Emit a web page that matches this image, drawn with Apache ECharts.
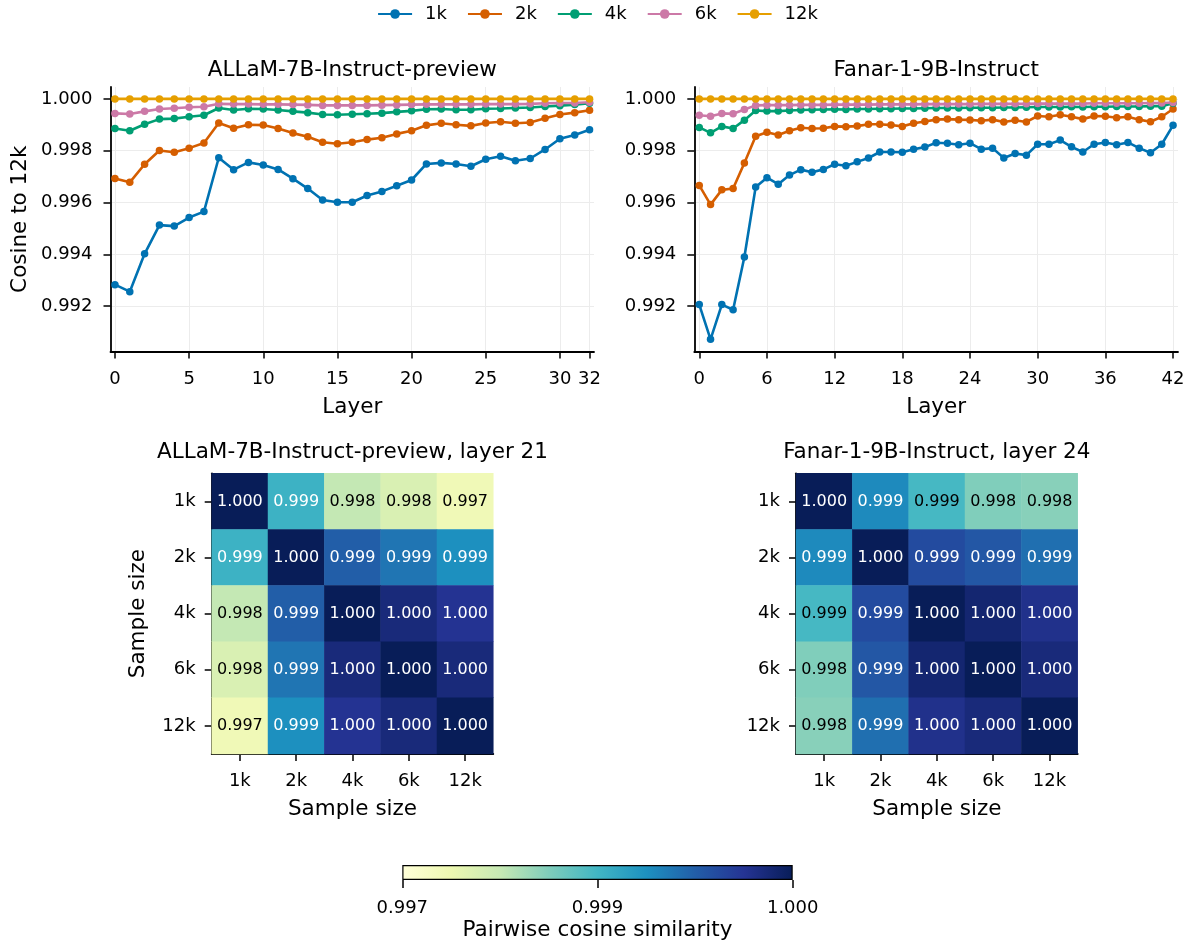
<!DOCTYPE html>
<html>
<head>
<meta charset="utf-8">
<script src="https://cdn.jsdelivr.net/npm/echarts@6/dist/echarts.min.js"></script>
<style>
html,body{margin:0;padding:0;background:#fff;}
#chart{width:1195px;height:942px;}
</style>
</head>
<body>
<div id="chart"></div>
<script>
// ---------- DATA ----------
const seriesNames = ['1k', '2k', '4k', '6k', '12k'];
const sizeLabels = ['1k', '2k', '4k', '6k', '12k'];

const allamTicks = [0, 5, 10, 15, 20, 25, 30, 32];
const fanarTicks = [0, 6, 12, 18, 24, 30, 36, 42];
const yTicks = [0.992, 0.994, 0.996, 0.998, 1.000];
const cbTicks = [0.997, 0.999, 0.9997];

const allam1k = [0.99283,0.99256,0.99402,0.99513,0.99509,0.99542,0.99565,0.99773,0.99727,0.99755,0.99745,0.99728,0.99692,0.99654,0.99610,0.99601,0.99601,0.99627,0.99643,0.99665,0.99687,0.99749,0.99753,0.99749,0.99740,0.99767,0.99779,0.99761,0.99770,0.99805,0.99846,0.99861,0.99881];
const allam2k = [0.99693,0.99678,0.99748,0.99801,0.99794,0.99810,0.99830,0.99907,0.99887,0.99900,0.99899,0.99886,0.99868,0.99854,0.99833,0.99827,0.99833,0.99843,0.99850,0.99865,0.99877,0.99898,0.99906,0.99900,0.99896,0.99907,0.99912,0.99906,0.99909,0.99925,0.99940,0.99947,0.99956];
const allam4k = [0.99886,0.99877,0.99902,0.99922,0.99924,0.99931,0.99937,0.99965,0.99957,0.99962,0.99961,0.99957,0.99952,0.99947,0.99940,0.99939,0.99941,0.99943,0.99945,0.99950,0.99954,0.99960,0.99961,0.99958,0.99958,0.99962,0.99963,0.99965,0.99967,0.99971,0.99974,0.99978,0.99983];
const allam6k = [0.99944,0.99942,0.99952,0.99961,0.99964,0.99968,0.99970,0.99981,0.99980,0.99980,0.99979,0.99979,0.99978,0.99977,0.99975,0.99975,0.99975,0.99975,0.99976,0.99977,0.99978,0.99979,0.99979,0.99979,0.99979,0.99980,0.99980,0.99980,0.99981,0.99983,0.99984,0.99984,0.99987];
const allam12k = [1,1,1,1,1,1,1,1,1,1,1,1,1,1,1,1,1,1,1,1,1,1,1,1,1,1,1,1,1,1,1,1,1];

const fanar1k = [0.99206,0.99072,0.99206,0.99186,0.99390,0.99660,0.99696,0.99671,0.99706,0.99727,0.99717,0.99728,0.99748,0.99742,0.99757,0.99772,0.99795,0.99795,0.99794,0.99806,0.99814,0.99831,0.99829,0.99823,0.99829,0.99806,0.99810,0.99772,0.99789,0.99783,0.99825,0.99825,0.99841,0.99815,0.99795,0.99825,0.99832,0.99823,0.99832,0.99810,0.99792,0.99825,0.99898];
const fanar2k = [0.99666,0.99592,0.99649,0.99654,0.99753,0.99856,0.99871,0.99861,0.99877,0.99889,0.99886,0.99887,0.99894,0.99893,0.99895,0.99902,0.99902,0.99899,0.99894,0.99906,0.99913,0.99920,0.99922,0.99920,0.99919,0.99916,0.99920,0.99911,0.99918,0.99911,0.99934,0.99931,0.99939,0.99931,0.99922,0.99934,0.99933,0.99927,0.99931,0.99920,0.99912,0.99931,0.99961];
const fanar4k = [0.99890,0.99869,0.99894,0.99886,0.99918,0.99955,0.99953,0.99953,0.99955,0.99957,0.99958,0.99959,0.99960,0.99959,0.99961,0.99961,0.99962,0.99962,0.99963,0.99963,0.99964,0.99965,0.99965,0.99965,0.99966,0.99966,0.99966,0.99967,0.99967,0.99968,0.99969,0.99969,0.99969,0.99970,0.99969,0.99970,0.99970,0.99971,0.99971,0.99971,0.99972,0.99972,0.99983];
const fanar6k = [0.99937,0.99933,0.99944,0.99943,0.99959,0.99975,0.99976,0.99976,0.99976,0.99977,0.99977,0.99977,0.99978,0.99978,0.99978,0.99978,0.99979,0.99979,0.99979,0.99979,0.99980,0.99980,0.99980,0.99980,0.99980,0.99981,0.99981,0.99981,0.99981,0.99981,0.99982,0.99982,0.99982,0.99982,0.99982,0.99983,0.99983,0.99983,0.99983,0.99983,0.99984,0.99984,0.99986];
const fanar12k = [1,1,1,1,1,1,1,1,1,1,1,1,1,1,1,1,1,1,1,1,1,1,1,1,1,1,1,1,1,1,1,1,1,1,1,1,1,1,1,1,1,1,1];

// pairwise matrices (rows/cols = sizeLabels)
const allamPair = [
  [1.00000, 0.99902, 0.99802, 0.99776, 0.99742],
  [0.99902, 1.00000, 0.99935, 0.99927, 0.99918],
  [0.99802, 0.99935, 1.00000, 0.99960, 0.99953],
  [0.99776, 0.99927, 0.99960, 1.00000, 0.99960],
  [0.99742, 0.99918, 0.99953, 0.99960, 1.00000]
];
const fanarPair = [
  [1.00000, 0.99920, 0.99896, 0.99849, 0.99844],
  [0.99920, 1.00000, 0.99943, 0.99938, 0.99929],
  [0.99896, 0.99943, 1.00000, 0.99963, 0.99955],
  [0.99849, 0.99938, 0.99963, 1.00000, 0.99960],
  [0.99844, 0.99929, 0.99955, 0.99960, 1.00000]
];

// ---------- STYLE ----------
const FONT = '"DejaVu Sans", "Liberation Sans", sans-serif';
const colors = ['#0072B2', '#D55E00', '#009E73', '#CC79A7', '#E69F00'];
const ylgnbu = ['#ffffd9','#edf8b1','#c7e9b4','#7fcdbb','#41b6c4','#1d91c0','#225ea8','#253494','#081d58'];
const VMIN = cbTicks[0], VCENTER = cbTicks[1], VMAX = cbTicks[2];
function norm(v) { // two-slope normalisation, clipped to [0,1]
  let t = v <= VCENTER ? 0.5 * (v - VMIN) / (VCENTER - VMIN)
                       : 0.5 + 0.5 * (v - VCENTER) / (VMAX - VCENTER);
  return Math.max(0, Math.min(1, t));
}

const chart = echarts.init(document.getElementById('chart'), null, {renderer: 'canvas'});

function lineAxisX(gridIndex, min, max, ticks) {
  return {
    type: 'value', gridIndex, min, max,
    name: 'Layer', nameLocation: 'middle', nameGap: 45,
    nameTextStyle: {fontSize: 21.5, color: '#000', fontFamily: FONT},
    axisLine: {show: true, onZero: false, lineStyle: {color: '#000', width: 1.8}},
    axisTick: {show: true, length: 7, customValues: ticks, lineStyle: {color: '#000', width: 1.5}},
    axisLabel: {customValues: ticks, fontSize: 18, color: '#000', fontFamily: FONT, margin: 19},
    splitLine: {show: true, lineStyle: {color: '#ececec', width: 1}}
  };
}
function lineAxisY(gridIndex, withName) {
  return {
    type: 'value', gridIndex, min: 0.99025, max: 1.00046,
    name: withName ? 'Cosine to 12k' : '', nameLocation: 'middle', nameGap: 79,
    nameTextStyle: {fontSize: 21.5, color: '#000', fontFamily: FONT},
    axisLine: {show: true, onZero: false, lineStyle: {color: '#000', width: 1.8}},
    axisTick: {show: true, length: 7, customValues: yTicks, lineStyle: {color: '#000', width: 1.5}},
    axisLabel: {customValues: yTicks, fontSize: 18, color: '#000', fontFamily: FONT, margin: 18,
      formatter: v => v.toFixed(3)},
    splitLine: {show: true, lineStyle: {color: '#ececec', width: 1}}
  };
}
function heatAxisX(gridIndex) {
  return {
    type: 'category', gridIndex, data: sizeLabels,
    name: 'Sample size', nameLocation: 'middle', nameGap: 44,
    nameTextStyle: {fontSize: 21.5, color: '#000', fontFamily: FONT},
    axisLine: {show: true, lineStyle: {color: '#000', width: 1.8}},
    axisTick: {show: true, alignWithLabel: true, length: 7, lineStyle: {color: '#000', width: 1.5}},
    axisLabel: {fontSize: 18, color: '#000', fontFamily: FONT, margin: 18},
    splitLine: {show: false}
  };
}
function heatAxisY(gridIndex, withName) {
  return {
    type: 'category', gridIndex, data: sizeLabels, inverse: true,
    name: withName ? 'Sample size' : '', nameLocation: 'middle', nameGap: 62,
    nameTextStyle: {fontSize: 21.5, color: '#000', fontFamily: FONT},
    axisLine: {show: true, lineStyle: {color: '#000', width: 1.8}},
    axisTick: {show: true, alignWithLabel: true, length: 7, lineStyle: {color: '#000', width: 1.5}},
    axisLabel: {fontSize: 18, color: '#000', fontFamily: FONT, margin: 16},
    splitLine: {show: false}
  };
}

function lineSeries(name, values, idx, axisIdx) {
  return {
    type: 'line', name, xAxisIndex: axisIdx, yAxisIndex: axisIdx,
    data: values.map((v, i) => [i, v]),
    symbol: 'circle', symbolSize: 7.5, showSymbol: true, clip: false,
    lineStyle: {color: colors[idx], width: 2.6},
    itemStyle: {color: colors[idx]},
    emphasis: {disabled: true}, z: 2 + idx
  };
}
function heatData(mat) {
  const out = [];
  mat.forEach((row, r) => row.forEach((v, c) => {
    out.push({value: [c, r, v, norm(v)], label: {color: v > 0.999 ? '#ffffff' : '#000000'}});
  }));
  return out;
}
function heatSeries(mat, axisIdx) {
  return {
    type: 'heatmap', xAxisIndex: axisIdx, yAxisIndex: axisIdx,
    data: heatData(mat),
    label: {show: true, fontSize: 16, fontFamily: FONT, formatter: p => p.value[2].toFixed(3)},
    itemStyle: {borderWidth: 0},
    emphasis: {disabled: true}
  };
}

const allamSets = [allam1k, allam2k, allam4k, allam6k, allam12k];
const fanarSets = [fanar1k, fanar2k, fanar4k, fanar6k, fanar12k];
const series = [];
allamSets.forEach((d, i) => series.push(lineSeries(seriesNames[i], d, i, 0)));
fanarSets.forEach((d, i) => series.push(lineSeries(seriesNames[i], d, i, 1)));
series.push(heatSeries(allamPair, 2));
series.push(heatSeries(fanarPair, 3));
const cbPos = cbTicks.map(norm);
series.push({
  type: 'bar', xAxisIndex: 4, yAxisIndex: 4, data: [1], barWidth: '100%', silent: true,
  itemStyle: {
    color: new echarts.graphic.LinearGradient(0, 0, 1, 0,
      ylgnbu.map((c, i) => ({offset: i / (ylgnbu.length - 1), color: c}))),
    borderColor: '#000', borderWidth: 1.2
  }
});

const option = {
  animation: false,
  backgroundColor: '#ffffff',
  textStyle: {fontFamily: FONT},
  legend: {
    data: seriesNames, top: 0, left: 'center',
    itemWidth: 34, itemHeight: 12, itemGap: 20,
    textStyle: {fontSize: 18, color: '#000', fontFamily: FONT, padding: [0, 0, 0, 8]},
    selectedMode: false
  },
  grid: [
    {left: 110.5, top: 87, width: 483.5, height: 264.5},
    {left: 694.3, top: 87, width: 483.7, height: 264.5},
    {left: 211.7, top: 473.3, width: 281.6, height: 280.7},
    {left: 796, top: 473.3, width: 281.7, height: 280.7},
    {left: 402.3, top: 865, width: 390.4, height: 16.7}
  ],
  xAxis: [
    lineAxisX(0, -0.3, 32.3, allamTicks),
    lineAxisX(1, -0.44, 42.44, fanarTicks),
    heatAxisX(2),
    heatAxisX(3),
    {
      type: 'value', gridIndex: 4, min: 0, max: 1,
      name: 'Pairwise cosine similarity', nameLocation: 'middle', nameGap: 39,
      nameTextStyle: {fontSize: 21.5, color: '#000', fontFamily: FONT},
      axisLine: {show: false},
      axisTick: {show: true, length: 8, customValues: cbPos, lineStyle: {color: '#000', width: 1.5}},
      axisLabel: {customValues: cbPos, fontSize: 18, color: '#000', fontFamily: FONT, margin: 19,
        formatter: v => {
          let best = 0;
          cbPos.forEach((p, i) => { if (Math.abs(p - v) < Math.abs(cbPos[best] - v)) best = i; });
          return cbTicks[best].toFixed(3);
        }},
      splitLine: {show: false}
    }
  ],
  yAxis: [
    lineAxisY(0, true),
    lineAxisY(1, false),
    heatAxisY(2, true),
    heatAxisY(3, false),
    {type: 'category', gridIndex: 4, data: ['cb'], show: false}
  ],
  visualMap: [{
    type: 'continuous', show: false, dimension: 3, min: 0, max: 1,
    seriesIndex: [10, 11], inRange: {color: ylgnbu}
  }],
  graphic: [
    {type: 'text', x: 352.3, y: 70, style: {text: 'ALLaM-7B-Instruct-preview', font: '21.5px ' + FONT, fill: '#000', align: 'center', verticalAlign: 'middle'}},
    {type: 'text', x: 936.2, y: 70, style: {text: 'Fanar-1-9B-Instruct', font: '21.5px ' + FONT, fill: '#000', align: 'center', verticalAlign: 'middle'}},
    {type: 'text', x: 352.5, y: 452.5, style: {text: 'ALLaM-7B-Instruct-preview, layer 21', font: '21.5px ' + FONT, fill: '#000', align: 'center', verticalAlign: 'middle'}},
    {type: 'text', x: 936.8, y: 452.5, style: {text: 'Fanar-1-9B-Instruct, layer 24', font: '21.5px ' + FONT, fill: '#000', align: 'center', verticalAlign: 'middle'}}
  ],
  series
};
chart.setOption(option);
</script>
</body>
</html>
